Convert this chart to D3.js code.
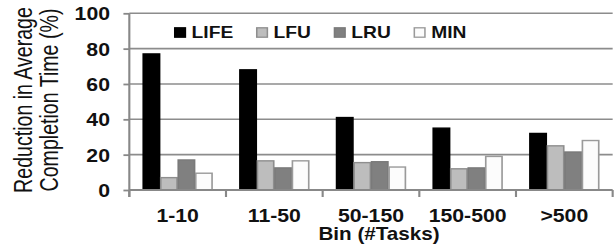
<!DOCTYPE html>
<html><head><meta charset="utf-8">
<script src="https://cdn.jsdelivr.net/npm/d3@7"></script>
<style>html,body{margin:0;padding:0;background:#fff;overflow:hidden}</style>
</head><body>
<script>
const categories = ["1-10", "11-50", "50-150", "150-500", ">500"];
const seriesNames = ["LIFE", "LFU", "LRU", "MIN"];
const LIFE = [77, 68, 41, 35, 32];
const LFU  = [7, 16.5, 15.5, 12, 25];
const LRU  = [17, 12.5, 16, 12.5, 21.5];
const MIN  = [9.5, 16.5, 13, 19, 28];
const yTicks = [0, 20, 40, 60, 80, 100];
const yTitle = ["Reduction in Average", "Completion Time (%)"];
const xTitle = "Bin (#Tasks)";

const seriesValues = {LIFE, LFU, LRU, MIN};
const style = {
  LIFE: {fill: "#000", stroke: "#000"},
  LFU:  {fill: "#bdbdbd", stroke: "#8e8e8e"},
  LRU:  {fill: "#808080", stroke: "#7a7a7a"},
  MIN:  {fill: "#fcfcfc", stroke: "#9a9a9a"}
};

const SX = 1.18;
const W = 615, H = 248, VW = W / SX;
const svg = d3.select("body").append("svg")
  .attr("width", W).attr("height", H)
  .attr("viewBox", `0 0 ${VW} ${H}`)
  .attr("preserveAspectRatio", "none")
  .style("font-family", "Liberation Sans, Arial, sans-serif");

const pLeft = 109.6, pRight = 519.2, pTop = 13.3, pBottom = 190;
const y = d3.scaleLinear().domain([0, 100]).range([pBottom, pTop]);
const x0 = d3.scaleBand().domain(categories).range([pLeft, pRight]).paddingInner(0.276).paddingOuter(0.138);
const x1 = d3.scaleBand().domain(seriesNames).range([0, x0.bandwidth()]);
const step = x0.step();

// gridlines
svg.append("g").selectAll("line").data(yTicks.filter(d => d > 0)).join("line")
  .attr("x1", pLeft).attr("x2", pRight).attr("y1", d => y(d)).attr("y2", d => y(d))
  .attr("stroke", "#8c8c8c").attr("stroke-width", 1.6);

// bars
const groups = svg.append("g").selectAll("g").data(categories).join("g")
  .attr("transform", c => `translate(${x0(c)},0)`);
groups.selectAll("rect").data((c, i) => seriesNames.map(s => ({s, v: seriesValues[s][i]}))).join("rect")
  .attr("x", d => x1(d.s) + 0.5).attr("width", x1.bandwidth() - 1)
  .attr("y", d => y(d.v)).attr("height", d => y(0) - y(d.v))
  .attr("fill", d => style[d.s].fill).attr("stroke", d => style[d.s].stroke).attr("stroke-width", 1.4);

// y axis
const yAxis = d3.axisLeft(y).tickValues(yTicks).tickSize(5).tickPadding(11.4);
const ya = svg.append("g").attr("transform", `translate(${pLeft},0)`).call(yAxis);
ya.select(".domain").remove();
ya.selectAll(".tick line").attr("stroke", "#888").attr("stroke-width", 1.8);
ya.selectAll(".tick text").attr("fill", "#111").style("font-size", "18px").style("font-weight", "bold").attr("dy", "0.36em");
svg.append("line").attr("x1", pLeft).attr("x2", pLeft).attr("y1", pTop).attr("y2", pBottom + 7)
  .attr("stroke", "#888").attr("stroke-width", 1.8);

// x axis
svg.append("line").attr("x1", pLeft).attr("x2", pRight).attr("y1", pBottom).attr("y2", pBottom)
  .attr("stroke", "#888").attr("stroke-width", 2.2);
svg.append("g").selectAll("line").data(d3.range(categories.length + 1)).join("line")
  .attr("x1", i => pLeft + i * step).attr("x2", i => pLeft + i * step)
  .attr("y1", pBottom).attr("y2", pBottom + 7).attr("stroke", "#888").attr("stroke-width", 1.8);
svg.append("g").selectAll("text").data(categories).join("text")
  .attr("x", c => x0(c) + x0.bandwidth() / 2).attr("y", 222)
  .attr("text-anchor", "middle").attr("fill", "#111")
  .style("font-size", "18px").style("font-weight", "bold").text(c => c);
svg.append("text").attr("x", 321.2).attr("y", 240.5).attr("text-anchor", "middle")
  .attr("fill", "#111").style("font-size", "17.5px").style("font-weight", "bold").text(xTitle);

// y title
const yt = [26.9, 49.4];
yTitle.forEach((t, i) => {
  svg.append("text").attr("transform", `translate(${yt[i]},100) rotate(-90) scale(1,1.1)`)
    .attr("text-anchor", "middle").attr("fill", "#111").style("font-size", "19.6px").text(t);
});

// legend
let lx = 147.5;
seriesNames.forEach(s => {
  svg.append("rect").attr("x", lx + 0.6).attr("y", 27.8).attr("width", 9).attr("height", 9.4)
    .attr("fill", style[s].fill).attr("stroke", style[s].stroke).attr("stroke-width", 1.3);
  const t = svg.append("text").attr("x", lx + 14.9).attr("y", 38.2).attr("fill", "#111")
    .style("font-size", "16.3px").style("font-weight", "bold").text(s);
  lx += 14.9 + t.node().getComputedTextLength() + 19.3;
});
</script>
</body></html>
